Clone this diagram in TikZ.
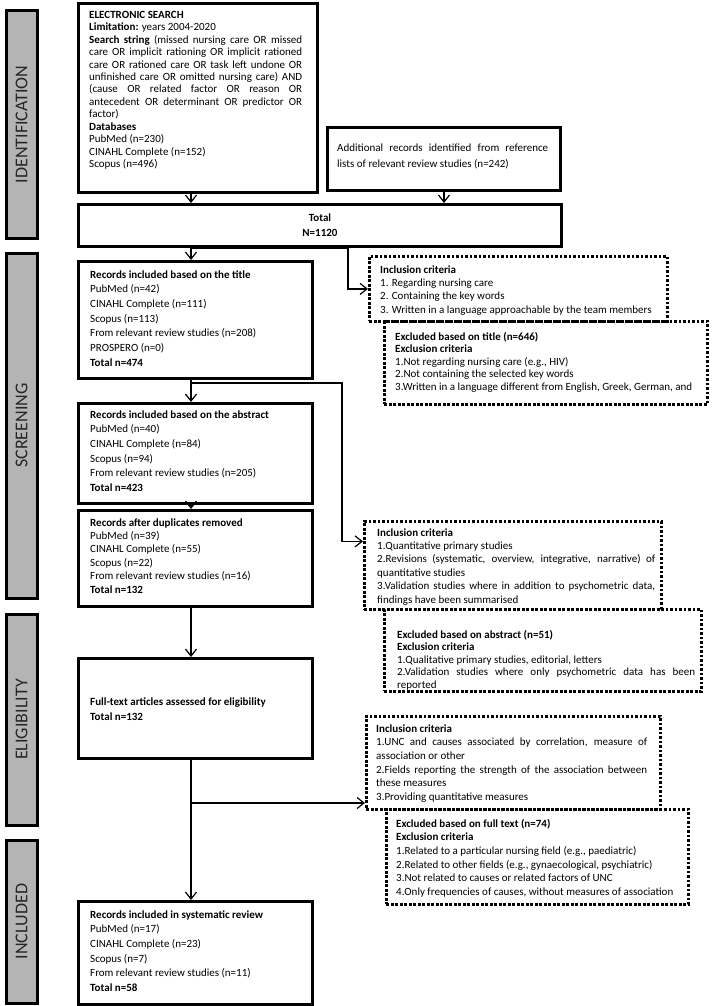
\documentclass[tikz,border=0pt]{standalone}
\usepackage{fontspec}
\setmainfont{Carlito}
\usepackage{graphicx}
\usetikzlibrary{arrows.meta,calc}
\setlength{\parindent}{0pt}
\definecolor{barg}{RGB}{180,180,180}
\newcommand\fsz[1]{\fontsize{11}{#1}\selectfont\tolerance=9999\emergencystretch=10pt}
\begin{document}
\begin{tikzpicture}[x=1pt,y=-1pt,
  mbox/.style={draw, line width=3pt, anchor=north west, inner sep=0pt},
  dbox/.style={draw, line width=2.8pt, dash pattern=on 2.8pt off 1.7pt, anchor=north west, inner sep=0pt},
  bar/.style={draw, line width=3pt, fill=barg, anchor=north west, inner sep=0pt, minimum width=31pt, font=\fontsize{18}{20}\selectfont, text=black!85},
  txt/.style={anchor=north west, inner sep=0pt, align=justify},
  arr/.style={line width=1.2pt, -{Straight Barb[length=7pt,width=11pt]}}]
\useasboundingbox (0,0) rectangle (712,1006);
\fill[white] (0,0) rectangle (712,1006);
% side bars
\node[bar, minimum height=227pt] (bI) at (4.5,9.5) {\rotatebox{90}{IDENTIFICATION}};
\node[bar, minimum height=345pt] (bS) at (4.5,251.5) {\rotatebox{90}{SCREENING}};
\node[bar, minimum height=211pt] (bE) at (4.5,612.5) {\rotatebox{90}{ELIGIBILITY}};
\node[bar, minimum height=163pt] (bN) at (4.5,838.5) {\rotatebox{90}{INCLUDED}};
% main boxes
\node[mbox, minimum width=239pt, minimum height=189pt] (b1) at (77,2) {};
\node[txt, text width=213pt, font=\fsz{12.45}] (b1t) at (89,9.3) {\strut\textbf{ELECTRONIC SEARCH}\par
\textbf{Limitation:} years 2004-2020\par
\textbf{Search string} (missed nursing care OR missed\linebreak care OR implicit rationing OR implicit rationed\linebreak care OR rationed care OR task left undone OR\linebreak unfinished care OR omitted nursing care) AND\linebreak (cause OR related factor OR reason OR\linebreak antecedent OR determinant OR predictor OR\linebreak factor)\par
\textbf{Databases}\par PubMed (n=230)\par CINAHL Complete (n=152)\par Scopus (n=496)};
\node[mbox, minimum width=233pt, minimum height=63pt] (add) at (326,126) {};
\node[txt, text width=211pt, font=\fsz{16.7}] (addt) at (337,139.3) {\strut Additional records identified from reference\linebreak lists of relevant review studies (n=242)};
\node[mbox, minimum width=483pt, minimum height=42pt, align=center, font=\fsz{15}\bfseries] (total) at (77,203) {Total\\N=1120};
\node[mbox, minimum width=234pt, minimum height=117pt] (title) at (77,260) {};
\node[txt, text width=215pt, font=\fsz{14.7}] (titlet) at (90,267.7) {\strut\textbf{Records included based on the title}\par PubMed (n=42)\par CINAHL Complete (n=111)\par Scopus (n=113)\par From relevant review studies (n=208)\par PROSPERO (n=0)\par \textbf{Total n=474}};
\node[mbox, minimum width=234pt, minimum height=100pt] (abs) at (77,402) {};
\node[txt, text width=215pt, font=\fsz{14.6}] (abst) at (90,407.8) {\strut\textbf{Records included based on the abstract}\par PubMed (n=40)\par CINAHL Complete (n=84)\par Scopus (n=94)\par From relevant review studies (n=205)\par \textbf{Total n=423}};
\node[mbox, minimum width=234pt, minimum height=96pt] (dup) at (77,509) {};
\node[txt, text width=215pt, font=\fsz{13.4}] (dupt) at (90,516.6) {\strut\textbf{Records after duplicates removed}\par PubMed (n=39)\par CINAHL Complete (n=55)\par Scopus (n=22)\par From relevant review studies (n=16)\par \textbf{Total n=132}};
\node[mbox, minimum width=234pt, minimum height=100pt] (full) at (77,657) {};
\node[txt, text width=215pt, font=\fsz{15}] (fullt) at (90,694.5) {\strut\textbf{Full-text articles assessed for eligibility}\par \textbf{Total n=132}};
\node[mbox, minimum width=234pt, minimum height=103pt] (final) at (77,900) {};
\node[txt, text width=215pt, font=\fsz{14.6}] (finalt) at (90,907.8) {\strut\textbf{Records included in systematic review}\par PubMed (n=17)\par CINAHL Complete (n=23)\par Scopus (n=7)\par From relevant review studies (n=11)\par \textbf{Total n=58}};
% criteria boxes
\node[dbox, minimum width=298pt, minimum height=65pt] (inc1) at (368,255) {};
\node[dbox, minimum width=323pt, minimum height=83pt] (exc1) at (383,320) {};
\node[txt, text width=285pt, font=\fsz{13.3}] (inc1t) at (380,263.7) {\strut\textbf{Inclusion criteria}\par 1. Regarding nursing care\par 2. Containing the key words\par 3. Written in a language approachable by the team members};
\node[txt, text width=305pt, font=\fsz{12.5}] (exc1t) at (395,331.3) {\strut\textbf{Excluded based on title (n=646)}\par \textbf{Exclusion criteria}\par 1.Not regarding nursing care (e.g., HIV)\par 2.Not containing the selected key words\par \mbox{3.Written in a language different from English, Greek, German, and}};
\node[dbox, minimum width=297pt, minimum height=88pt] (inc2) at (363,520) {};
\node[dbox, minimum width=317pt, minimum height=82pt] (exc2) at (383,608) {};
\node[txt, text width=278pt, font=\fsz{13.4}] (inc2t) at (377,526.6) {\strut\textbf{Inclusion criteria}\par 1.Quantitative primary studies\par 2.Revisions (systematic, overview, integrative, narrative) of\linebreak quantitative studies\par 3.Validation studies where in addition to psychometric data,\linebreak findings have been summarised};
\node[txt, text width=298pt, font=\fsz{12.5}] (exc2t) at (397,629.3) {\strut\textbf{Excluded based on abstract (n=51)}\par \textbf{Exclusion criteria}\par 1.Qualitative primary studies, editorial, letters\par 2.Validation studies where only psychometric data has been\linebreak reported};
\node[dbox, minimum width=294pt, minimum height=93pt] (inc3) at (365,715) {};
\node[dbox, minimum width=302pt, minimum height=95pt] (exc3) at (385,808) {};
\node[txt, text width=271pt, font=\fsz{13.6}] (inc3t) at (376,722.5) {\strut\textbf{Inclusion criteria}\par 1.UNC and causes associated by correlation, measure of\linebreak association or other\par 2.Fields reporting the strength of the association between\linebreak these measures\par 3.Providing quantitative measures};
\node[txt, text width=290pt, font=\fsz{13.6}] (exc3t) at (396,817.5) {\strut\textbf{Excluded based on full text (n=74)}\par \textbf{Exclusion criteria}\par 1.Related to a particular nursing field (e.g., paediatric)\par 2.Related to other fields (e.g., gynaecological, psychiatric)\par 3.Not related to causes or related factors of UNC\par \mbox{4.Only frequencies of causes, without measures of association}};
% connectors
\coordinate (mx) at (191,0);
\draw[arr] (b1.south -| mx) -- (total.north -| mx);
\draw[arr] (add.south) -- (total.north -| add.south);
\draw[arr] (total.south -| mx) -- (title.north -| mx);
\coordinate (j1) at (191,248);
\draw[arr] (j1) -| ([xshift=-20pt]inc1.west) -- (inc1.west);
\draw[arr] (title.south -| mx) -- (abs.north -| mx);
\coordinate (j2) at (191,383);
\coordinate (t2) at ([yshift=24pt]inc2.west);
\draw[arr] (j2) -| ([xshift=-21pt]t2) -- (t2);
\draw[arr] (abs.south -| mx) -- (dup.north -| mx);
\draw[arr] (dup.south -| mx) -- (full.north -| mx);
\draw[arr] (full.south -| mx) -- (final.north -| mx);
\coordinate (j3) at (191,803);
\draw[arr] (j3) -- (j3 -| inc3.west);
\end{tikzpicture}
\end{document}
